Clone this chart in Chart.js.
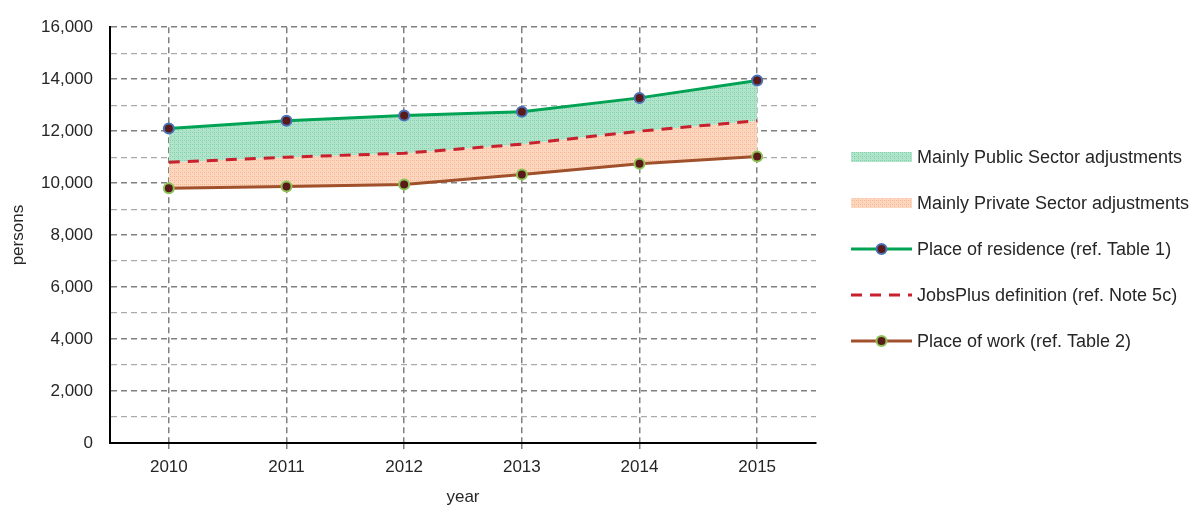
<!DOCTYPE html>
<html>
<head>
<meta charset="utf-8">
<script src="https://cdn.jsdelivr.net/npm/chart.js@4/dist/chart.umd.min.js"></script>
<style>
  html, body { margin: 0; padding: 0; background: #fff; }
  #wrap { position: relative; width: 1194px; height: 507px; }
</style>
</head>
<body>
<div id="wrap"><canvas id="chart" width="1194" height="507"></canvas></div>
<script>
// data
const years = ['2010', '2011', '2012', '2013', '2014', '2015'];
const placeOfResidence = [12100, 12400, 12600, 12750, 13280, 13950];
const jobsPlus = [10800, 11000, 11150, 11500, 12000, 12400];
const placeOfWork = [9800, 9870, 9950, 10330, 10750, 11020];

const legendLabels = [
    'Mainly Public Sector adjustments',
    'Mainly Private Sector adjustments',
    'Place of residence (ref. Table 1)',
    'JobsPlus definition (ref. Note 5c)',
    'Place of work (ref. Table 2)'
];

const FONT = '"Liberation Sans", Arial, sans-serif';
const TEXT = '#262626';

const canvas = document.getElementById('chart');
const ctx = canvas.getContext('2d');

// small dotted fill pattern, like the office-style texture in the original
function makePattern(base, dot) {
    const c = document.createElement('canvas');
    c.width = 4; c.height = 4;
    const g = c.getContext('2d');
    g.fillStyle = base;
    g.fillRect(0, 0, 4, 4);
    g.fillStyle = dot;
    g.fillRect(0, 0, 1, 1);
    g.fillRect(2, 2, 1, 1);
    g.fillRect(2, 0, 1, 1);
    return ctx.createPattern(c, 'repeat');
}

const greenFill = makePattern('#b0e4cb', '#86d1ab');
const orangeFill = makePattern('#fcd6bf', '#f6b993');

const colResidence = '#00a253';
const colJobs = '#c8202c';
const colWork = '#a0502a';

// hand-drawn legend on the right, symbols in the style of the original
const legendPlugin = {
    id: 'sideLegend',
    afterDraw(chart) {
        const c = chart.ctx;
        const x0 = 851, w = 61, y0 = 157, step = 46;
        c.save();
        c.font = '18px ' + FONT;
        c.textBaseline = 'middle';
        c.fillStyle = TEXT;
        legendLabels.forEach((txt, i) => {
            const y = y0 + i * step;
            const mid = x0 + w / 2;
            if (i === 0 || i === 1) {
                c.fillStyle = i === 0 ? greenFill : orangeFill;
                c.fillRect(x0, y - 5, w, 10);
            } else {
                c.lineWidth = 3;
                if (i === 3) {
                    c.strokeStyle = colJobs;
                    c.setLineDash([11, 8]);
                } else {
                    c.strokeStyle = i === 2 ? colResidence : colWork;
                    c.setLineDash([]);
                }
                c.beginPath();
                c.moveTo(x0, y);
                c.lineTo(x0 + w, y);
                c.stroke();
                c.setLineDash([]);
                if (i !== 3) {
                    c.beginPath();
                    c.arc(mid, y, 5, 0, Math.PI * 2);
                    c.fillStyle = '#5b1a1a';
                    c.fill();
                    c.lineWidth = 2;
                    c.strokeStyle = i === 2 ? '#4a72b8' : '#8cc456';
                    c.stroke();
                }
            }
            c.fillStyle = TEXT;
            c.fillText(txt, x0 + w + 5, y + 1);
        });
        c.restore();
    }
};

new Chart(ctx, {
    type: 'line',
    data: {
        labels: years,
        datasets: [
            {
                label: legendLabels[2],
                data: placeOfResidence,
                borderColor: colResidence,
                backgroundColor: greenFill,
                borderWidth: 3,
                fill: '+1',
                tension: 0,
                pointRadius: 5,
                pointBackgroundColor: '#5b1a1a',
                pointBorderColor: '#4a72b8',
                pointBorderWidth: 2
            },
            {
                label: legendLabels[3],
                data: jobsPlus,
                borderColor: colJobs,
                backgroundColor: orangeFill,
                borderWidth: 3,
                borderDash: [11, 8],
                fill: '+1',
                tension: 0,
                pointRadius: 0
            },
            {
                label: legendLabels[4],
                data: placeOfWork,
                borderColor: colWork,
                backgroundColor: colWork,
                borderWidth: 3,
                fill: false,
                tension: 0,
                pointRadius: 5,
                pointBackgroundColor: '#5b1a1a',
                pointBorderColor: '#8cc456',
                pointBorderWidth: 2
            }
        ]
    },
    options: {
        responsive: false,
        animation: false,
        layout: { padding: { left: 0, right: 378, top: 25, bottom: 0 } },
        plugins: {
            legend: { display: false },
            tooltip: { enabled: false },
            filler: { drawTime: 'beforeDatasetsDraw' }
        },
        scales: {
            x: {
                offset: true,
                grid: {
                    offset: false,
                    color: '#808080',
                    lineWidth: 1.5,
                    drawTicks: true,
                    tickLength: 6
                },
                border: { display: true, color: '#000', width: 2, dash: [6, 4] },
                ticks: { color: TEXT, font: { family: FONT, size: 17 }, padding: 8, maxRotation: 0 },
                title: {
                    display: true, text: 'year', color: TEXT,
                    font: { family: FONT, size: 17, lineHeight: 1.0 }, padding: { top: 0, bottom: 1 }
                },
                afterFit(scale) { scale.height = 64; }
            },
            y: {
                min: 0,
                max: 16000,
                grid: {
                    drawTicks: false,
                    lineWidth: (c) => (c.tick && c.tick.value % 2000 === 0) ? 1.5 : 1.2,
                    color: (c) => (c.tick && c.tick.value % 2000 === 0) ? '#808080' : '#ababab'
                },
                border: { display: true, color: '#000', width: 2, dash: [6, 4] },
                ticks: {
                    stepSize: 1000,
                    autoSkip: false,
                    color: TEXT,
                    font: { family: FONT, size: 17 },
                    padding: 17,
                    callback: (v) => v % 2000 === 0 ? v.toLocaleString('en-US') : ''
                },
                title: {
                    display: true, text: 'persons', color: TEXT,
                    font: { family: FONT, size: 17 }, padding: { top: 8, bottom: 0 }
                },
                afterFit(scale) { scale.width = 110; }
            }
        }
    },
    plugins: [legendPlugin]
});
</script>
</body>
</html>
